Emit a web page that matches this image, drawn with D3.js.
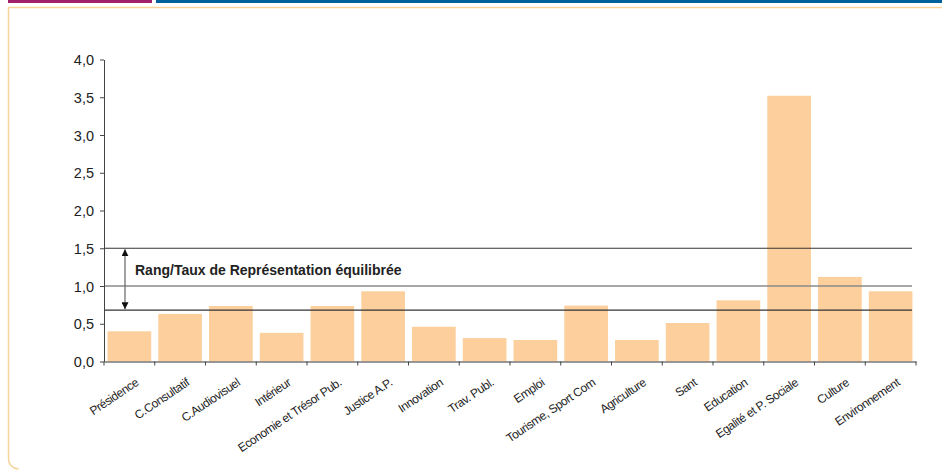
<!DOCTYPE html>
<html><head><meta charset="utf-8">
<script src="https://cdn.jsdelivr.net/npm/d3@7"></script>
<style>
html,body{margin:0;padding:0;background:#fff;}
svg{display:block;font-family:"Liberation Sans",Arial,sans-serif;}
</style></head>
<body><svg id="c" width="942" height="470"></svg>
<script>
const categories = ["Présidence","C.Consultatif","C.Audiovisuel","Intérieur","Economie et Trésor Pub.","Justice A.P.","Innovation","Trav. Publ.","Emploi","Tourisme, Sport Com","Agriculture","Sant","Education","Egalité et P. Sociale","Culture","Environnement"];
const values = [0.40,0.63,0.735,0.38,0.735,0.93,0.46,0.31,0.285,0.74,0.285,0.51,0.81,3.52,1.12,0.93];
const yTicks = [0,0.5,1.0,1.5,2.0,2.5,3.0,3.5,4.0];
const refLines = [1.5,1.0,0.68];
const bandLabel = "Rang/Taux de Représentation équilibrée";

const svg = d3.select("#c");
// header bars
svg.append("rect").attr("x",8).attr("y",0).attr("width",144).attr("height",3).attr("fill","#A2206A");
svg.append("rect").attr("x",156).attr("y",0).attr("width",786).attr("height",3).attr("fill","#00609C");
// frame
svg.append("path").attr("d","M 942 7.5 L 8.5 7.5 L 8.5 458 Q 8.5 468 18.5 469")
  .attr("fill","none").attr("stroke","#F6D49C").attr("stroke-width",1.5);

const x0=104, x1=916, y0=361.5, yTop=59.5;
const x = d3.scaleBand().domain(categories).range([x0,x1]).paddingInner(0.14).paddingOuter(0.07);
const y = d3.scaleLinear().domain([0,4]).range([y0,yTop]);

// bars
svg.append("g").selectAll("rect").data(values).join("rect")
  .attr("x",(d,i)=>x(categories[i])).attr("width",x.bandwidth())
  .attr("y",d=>y(d)).attr("height",d=>y0-y(d)).attr("fill","#FCCF9C");

// reference lines
svg.append("g").selectAll("line").data(refLines).join("line")
  .attr("x1",x0).attr("x2",912).attr("y1",d=>y(d)).attr("y2",d=>y(d))
  .attr("stroke",d=>d===1.0?"#8a8a8a":"#333").attr("stroke-width",d=>d===1.0?1.6:1.2);

// y axis
const yAxis = d3.axisLeft(y).tickValues(yTicks).tickSize(4).tickSizeOuter(0)
  .tickFormat(d=>d3.format(".1f")(d).replace(".",","));
const gy = svg.append("g").attr("transform",`translate(${x0},0)`).call(yAxis);
gy.select(".domain").attr("stroke","#444");
gy.selectAll(".tick line").attr("stroke","#444");
gy.selectAll("text").attr("font-size",14.5).attr("fill","#222").attr("x",-10).attr("dy","0.35em");

// x axis
const xAxis = d3.axisBottom(x).tickSize(0).tickFormat("");
const gx = svg.append("g").attr("transform",`translate(0,${y0})`).call(xAxis);
gx.select(".domain").attr("stroke","#777").attr("stroke-width",1.5);
// tick marks at band boundaries
const bounds = d3.range(categories.length+1).map(i=>x0 + i*(x1-x0)/categories.length);
svg.append("g").selectAll("line").data(bounds).join("line")
  .attr("x1",d=>d).attr("x2",d=>d).attr("y1",y0).attr("y2",y0+4).attr("stroke","#444");

// x labels
svg.append("g").selectAll("text").data(categories).join("text")
  .attr("transform",d=>`translate(${x(d)+x.bandwidth()/2+10},${y0+23}) rotate(-34)`)
  .attr("text-anchor","end").attr("font-size",12).attr("letter-spacing","-0.45px").attr("fill","#222")
  .text(d=>d);

// arrow
const defs = svg.append("defs");
defs.append("marker").attr("id","ah").attr("viewBox","0 0 10 10").attr("refX",10).attr("refY",5)
  .attr("markerWidth",7).attr("markerHeight",7).attr("markerUnits","userSpaceOnUse").attr("orient","auto")
  .append("path").attr("d","M0,0 L10,5 L0,10 z").attr("fill","#111");
svg.append("line").attr("x1",125).attr("x2",125).attr("y1",y(1.0)).attr("y2",y(1.5)+1)
  .attr("stroke","#666").attr("stroke-width",1.2).attr("marker-end","url(#ah)");
svg.append("line").attr("x1",125).attr("x2",125).attr("y1",y(1.0)).attr("y2",y(0.68)-1)
  .attr("stroke","#666").attr("stroke-width",1.2).attr("marker-end","url(#ah)");
svg.append("text").attr("x",135).attr("y",y(1.5)+27).attr("font-size",14).attr("font-weight","bold")
  .attr("fill","#222").text(bandLabel);
</script></body></html>
